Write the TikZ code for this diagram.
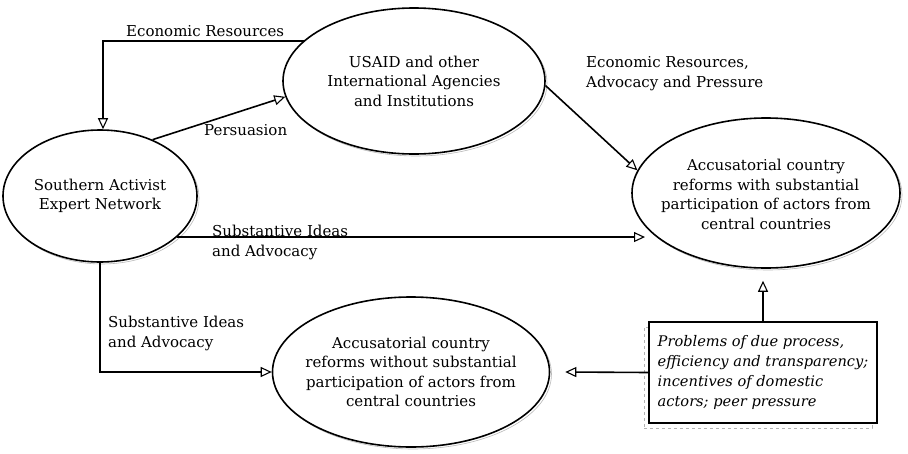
\documentclass[tikz,border=0pt]{standalone}
\usepackage{fontspec}
\setmainfont{DejaVu Serif}
\usetikzlibrary{shapes.geometric,arrows.meta,calc}
\begin{document}
\begin{tikzpicture}[x=1pt,y=1pt,
  every node/.style={font=\fontsize{15}{19.5}\selectfont},
  oval/.style={ellipse,draw,line width=1.6pt,fill=white,inner xsep=-40pt,inner ysep=0pt,align=center,
    preaction={draw=gray!55,line width=0.6pt,transform canvas={shift={(2pt,-2pt)}}}},
  conn/.style={line width=1.6pt,-{Triangle[open,length=11pt,width=10pt,fill=white,line width=1.1pt]}},
  lbl/.style={align=left,inner sep=0pt,anchor=base west}]
\useasboundingbox (0,0) rectangle (908,-453);
\node[oval,minimum width=194pt,minimum height=132pt] (sa) at (100,-196) {Southern Activist\\Expert Network};
\node[oval,minimum width=262pt,minimum height=146pt] (us) at (414,-81) {USAID and other\\International Agencies\\and Institutions};
\node[oval,minimum width=268pt,minimum height=150pt] (wi) at (766,-193) {\\[-5pt]Accusatorial country\\reforms with substantial\\participation of actors from\\central countries};
\node[oval,minimum width=277pt,minimum height=150pt] (wo) at (411,-372) {Accusatorial country\\reforms without substantial\\participation of actors from\\central countries};
\node[draw,line width=1.6pt,fill=white,minimum width=228pt,minimum height=101pt,align=left,inner sep=3pt,
  font=\fontsize{14.6}{20}\selectfont\itshape,
  preaction={draw=gray!60,line width=0.6pt,dashed,transform canvas={shift={(-5pt,-5pt)}}}]
  (bx) at (763,-372.5) {Problems of due process,\\efficiency and transparency;\\incentives of domestic\\actors; peer pressure};
% connectors
\coordinate (c1) at (103,-41);
\draw[conn] (us.160) -- (us.160 -| c1) -- (c1 |- sa.north);
\node[lbl] (l1) at (126,-36) {Economic Resources};
\draw[conn] (sa.47) -- (us.187);
\node[lbl] (l2) at (204,-135) {Persuasion};
\draw[conn] (us.-2) -- (wi.170);
\node[lbl] (l3) at (586,-87) {Economic Resources,\\Advocacy and Pressure};
\coordinate (e3) at (645,-238);
\draw[conn] (sa.-28) -- (sa.-28 -| e3);
\node[lbl] (l4) at (212,-256) {Substantive Ideas\\and Advocacy};
\draw[conn] (sa.south) |- (wo.west);
\node[lbl] (l5) at (108,-347) {Substantive Ideas\\and Advocacy};
\draw[conn] (bx.west) -- ($(wo.east)+(15,0)$);
\draw[conn] (bx.north) -- ($(bx.north |- wi.south)+(0,-12)$);
\end{tikzpicture}
\end{document}
